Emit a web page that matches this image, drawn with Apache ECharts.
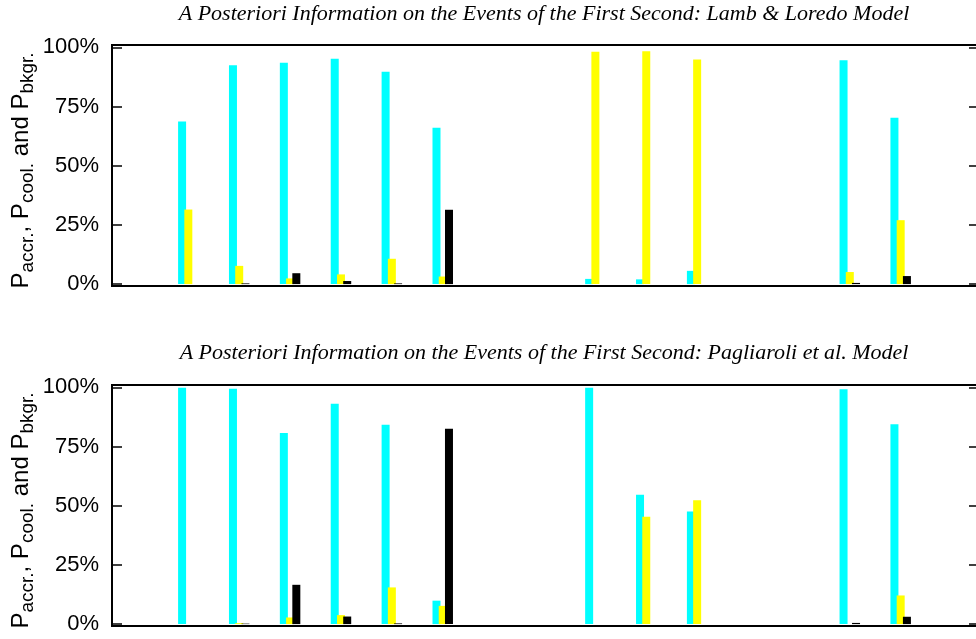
<!DOCTYPE html>
<html>
<head>
<meta charset="utf-8">
<script src="https://cdn.jsdelivr.net/npm/echarts@6/dist/echarts.min.js"></script>
<style>
html,body{margin:0;padding:0;background:#fff;}
#chart{width:976px;height:639px;}
</style>
</head>
<body>
<div id="chart"></div>
<script>
// Slots along the x axis (events of the first second; empty slots have no bars)
const categories = ['', 'K1', 'K2', 'K3', 'K4', 'K5', 'K6', 'gap1', 'gap2', 'K7', 'K8', 'K9', 'gap3', 'gap4', 'I1', 'I2', ''];
const yTicks = [0, 25, 50, 75, 100];

const titleTop = 'A Posteriori Information on the Events of the First Second: Lamb & Loredo Model';
const titleBottom = 'A Posteriori Information on the Events of the First Second: Pagliaroli et al. Model';

// Lamb & Loredo model (percent)
const accrLL = [null, 68.7, 92.4, 93.5, 95.2, 89.7, 66.0, null, null, 2.2, 2.0, 5.6, null, null, 94.6, 70.3, null];
const coolLL = [null, 31.5, 7.7, 2.4, 4.1, 10.7, 3.2, null, null, 98.1, 98.4, 94.9, null, null, 5.1, 27.0, null];
const bkgrLL = [null, 0, 0.3, 4.6, 1.3, 0.3, 31.4, null, null, 0, 0, 0, null, null, 0.5, 3.4, null];

// Pagliaroli et al. model (percent)
const accrPA = [null, 99.8, 99.4, 80.7, 93.1, 84.2, 9.9, null, null, 99.8, 54.6, 47.6, null, null, 99.2, 84.4, null];
const coolPA = [null, 0, 0.4, 2.8, 3.8, 15.5, 7.7, null, null, 0, 45.3, 52.3, null, null, 0, 12.1, null];
const bkgrPA = [null, 0, 0.2, 16.6, 3.2, 0.3, 82.5, null, null, 0, 0, 0, null, null, 0.5, 3.1, null];

const chart = echarts.init(document.getElementById('chart'), null, {renderer: 'canvas'});

const sans = 'Liberation Sans, Arial, sans-serif';
const serif = 'Liberation Serif, Times New Roman, serif';

function gridCfg(top) {
  return {left: 112, width: 865, top: top, height: 241, show: true, borderColor: '#000', borderWidth: 2,
    backgroundColor: 'transparent', containLabel: false, outerBoundsMode: 'none'};
}
function xCfg(gi) {
  return {type: 'category', gridIndex: gi, data: categories, boundaryGap: true,
    axisLine: {show: false}, axisTick: {show: false}, axisLabel: {show: false}, splitLine: {show: false}};
}
const yName = '{m|P}{s|accr.}{m|, P}{s|cool.}{m| and P}{s|bkgr.}';
function yLeft(gi) {
  return {type: 'value', gridIndex: gi, position: 'left', min: -0.8, max: 101,
    axisLine: {show: false}, splitLine: {show: false},
    axisTick: {show: true, inside: true, length: 10, customValues: yTicks, lineStyle: {color: '#000', width: 1.5}},
    axisLabel: {show: true, customValues: yTicks, formatter: v => v + '%', fontSize: 22, fontFamily: sans, color: '#000', margin: 13},
    name: yName, nameLocation: 'middle', nameRotate: 90, nameGap: 75, nameMoveOverlap: false,
    nameTextStyle: {padding: [0, 10, 0, 0], rich: {
      m: {fontSize: 24, fontFamily: sans, color: '#000'},
      s: {fontSize: 19, fontFamily: sans, color: '#000', padding: [12, 0, 0, 0]}
    }}
  };
}
function yRight(gi) {
  return {type: 'value', gridIndex: gi, position: 'right', min: -0.8, max: 101,
    axisLine: {show: false}, splitLine: {show: false},
    axisTick: {show: true, inside: true, length: 8, customValues: yTicks, lineStyle: {color: '#000', width: 1.5}},
    axisLabel: {show: false}};
}
function bar(name, data, color, xi, yi) {
  return {name: name, type: 'bar', xAxisIndex: xi, yAxisIndex: yi, data: data,
    barWidth: 8, barGap: '-22%', itemStyle: {color: color}, animation: false};
}

chart.setOption({
  backgroundColor: '#fff',
  animation: false,
  title: [
    {text: titleTop, left: 539, top: -2, textAlign: 'center',
      textStyle: {fontFamily: serif, fontStyle: 'italic', fontWeight: 'normal', fontSize: 22, color: '#000'}},
    {text: titleBottom, left: 539, top: 337, textAlign: 'center',
      textStyle: {fontFamily: serif, fontStyle: 'italic', fontWeight: 'normal', fontSize: 22, color: '#000'}}
  ],
  grid: [gridCfg(45), gridCfg(385)],
  xAxis: [xCfg(0), xCfg(1)],
  yAxis: [yLeft(0), yRight(0), yLeft(1), yRight(1)],
  series: [
    bar('P accr.', accrLL, '#00ffff', 0, 0),
    bar('P cool.', coolLL, '#ffff00', 0, 0),
    bar('P bkgr.', bkgrLL, '#000000', 0, 0),
    bar('P accr.', accrPA, '#00ffff', 1, 2),
    bar('P cool.', coolPA, '#ffff00', 1, 2),
    bar('P bkgr.', bkgrPA, '#000000', 1, 2)
  ]
});
</script>
</body>
</html>
